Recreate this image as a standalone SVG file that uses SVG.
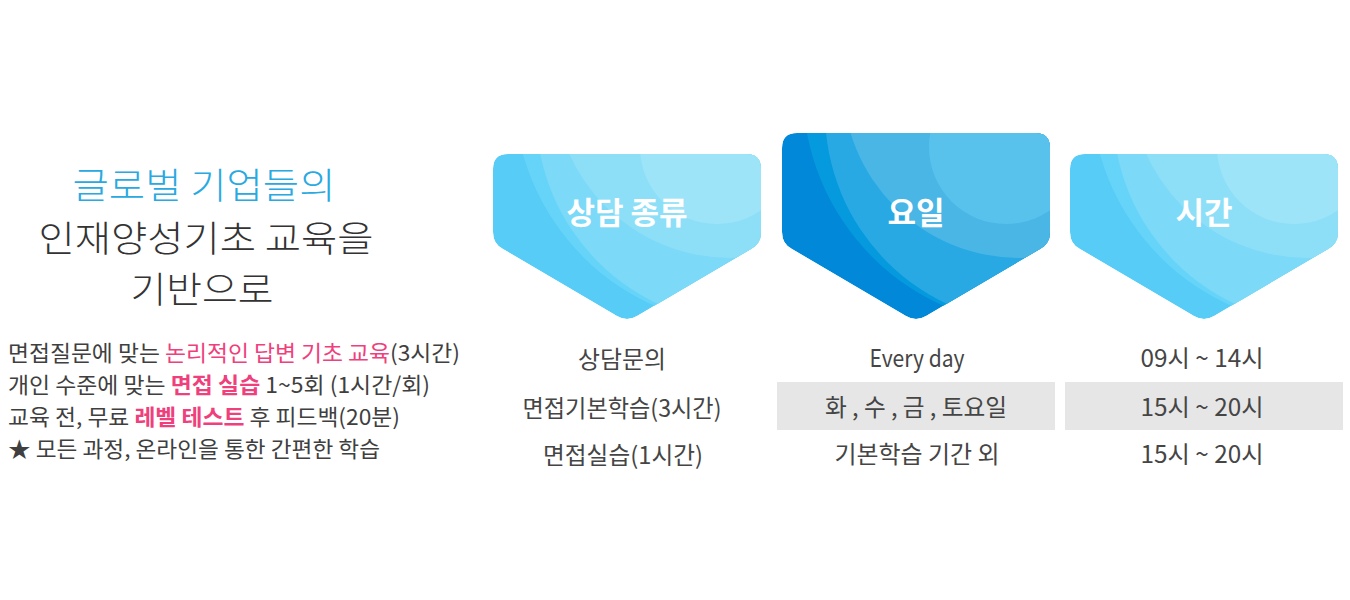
<svg xmlns="http://www.w3.org/2000/svg" width="1350" height="600" viewBox="0 0 1350 600">
<style>
.f{font-family:"Noto Sans CJK KR","Noto Sans",sans-serif}
.hd{font-size:36px;font-weight:300;text-anchor:middle}
.bl{font-size:22px;fill:#3f3f3f}
.pk{fill:#ef3f7c}
.b{font-weight:700}
.lbl{font-size:31px;font-weight:700;fill:#ffffff;text-anchor:middle}
.tb{font-size:24px;fill:#454545;text-anchor:middle}
.gray{fill:#e6e6e6}
</style>
<defs>
<path id="sh" d="M-119,154 H119 Q134,154 134,169 V232 Q134,244 124,249 L10,316 Q0,322 -10,316 L-124,249 Q-134,244 -134,232 V169 Q-134,154 -119,154 Z"/>
<path id="shT" d="M-119,133 H119 Q134,133 134,148 V232 Q134,244 124,249 L10,316 Q0,322 -10,316 L-124,249 Q-134,244 -134,232 V148 Q-134,133 -119,133 Z"/>
<clipPath id="cs"><use href="#sh"/></clipPath>
<clipPath id="cT"><use href="#shT"/></clipPath>
</defs>
<g id="title">
<text class="f hd" x="204" y="199" fill="#29a9e1" textLength="263" lengthAdjust="spacingAndGlyphs">글로벌 기업들의</text>
<text class="f hd" x="206" y="252" fill="#333333" textLength="335" lengthAdjust="spacingAndGlyphs">인재양성기초 교육을</text>
<text class="f hd" x="202" y="303" fill="#333333" textLength="143" lengthAdjust="spacingAndGlyphs">기반으로</text>
</g>
<g id="bullets">
<text class="f bl" x="8" y="361" textLength="452" lengthAdjust="spacingAndGlyphs">면접질문에 맞는 <tspan class="pk">논리적인 답변 기초 교육</tspan>(3시간)</text>
<text class="f bl" x="8" y="393" textLength="422" lengthAdjust="spacingAndGlyphs">개인 수준에 맞는 <tspan class="pk b">면접 실습</tspan> 1~5회 (1시간/회)</text>
<text class="f bl" x="8" y="425" textLength="392" lengthAdjust="spacingAndGlyphs">교육 전, 무료 <tspan class="pk b">레벨 테스트</tspan> 후 피드백(20분)</text>
<text class="f bl" x="8" y="457" textLength="372" lengthAdjust="spacingAndGlyphs">★ 모든 과정, 온라인을 통한 간편한 학습</text>
</g>
<g id="node-type" transform="translate(627,0)">
<g clip-path="url(#cs)">
<use href="#sh" fill="#56ccf6"/>
<circle cx="123" cy="90" r="236" fill="#66d4f8"/>
<circle cx="121" cy="112" r="212" fill="#7cd9f7"/>
<circle cx="103" cy="82" r="176" fill="#8ddff8"/>
<circle cx="90" cy="147" r="77" fill="#9de4f9"/>
</g>
<text class="f lbl" x="0" y="224">상담 종류</text>
</g>
<g id="node-day" transform="translate(916,0)">
<g clip-path="url(#cT)">
<use href="#shT" fill="#0288d8"/>
<circle cx="123" cy="90" r="236" fill="#049add"/>
<circle cx="121" cy="112" r="212" fill="#28a9e3"/>
<circle cx="103" cy="82" r="176" fill="#4ab6e6"/>
<circle cx="90" cy="147" r="77" fill="#58c2ed"/>
</g>
<text class="f lbl" x="0" y="224">요일</text>
</g>
<g id="node-time" transform="translate(1204,0)">
<g clip-path="url(#cs)">
<use href="#sh" fill="#56ccf6"/>
<circle cx="123" cy="90" r="236" fill="#66d4f8"/>
<circle cx="121" cy="112" r="212" fill="#7cd9f7"/>
<circle cx="103" cy="82" r="176" fill="#8ddff8"/>
<circle cx="90" cy="147" r="77" fill="#9de4f9"/>
</g>
<text class="f lbl" x="0" y="224">시간</text>
</g>
<g id="table">
<rect class="gray" x="777" y="382" width="278" height="48"/>
<rect class="gray" x="1065" y="382" width="278" height="48"/>
<text class="f tb" x="622" y="368" textLength="88" lengthAdjust="spacingAndGlyphs">상담문의</text>
<text class="f tb" x="622" y="417" textLength="199" lengthAdjust="spacingAndGlyphs">면접기본학습(3시간)</text>
<text class="f tb" x="623" y="464" textLength="160" lengthAdjust="spacingAndGlyphs">면접실습(1시간)</text>
<text class="f tb" x="917" y="367" textLength="95" lengthAdjust="spacingAndGlyphs">Every day</text>
<text class="f tb" x="916" y="416" textLength="182" lengthAdjust="spacingAndGlyphs">화 , 수 , 금 , 토요일</text>
<text class="f tb" x="917" y="463" textLength="165" lengthAdjust="spacingAndGlyphs">기본학습 기간 외</text>
<text class="f tb" x="1202" y="367" textLength="123" lengthAdjust="spacingAndGlyphs">09시 ~ 14시</text>
<text class="f tb" x="1202" y="416" textLength="123" lengthAdjust="spacingAndGlyphs">15시 ~ 20시</text>
<text class="f tb" x="1202" y="463" textLength="123" lengthAdjust="spacingAndGlyphs">15시 ~ 20시</text>
</g>
<g id="connectors"/>
</svg>
